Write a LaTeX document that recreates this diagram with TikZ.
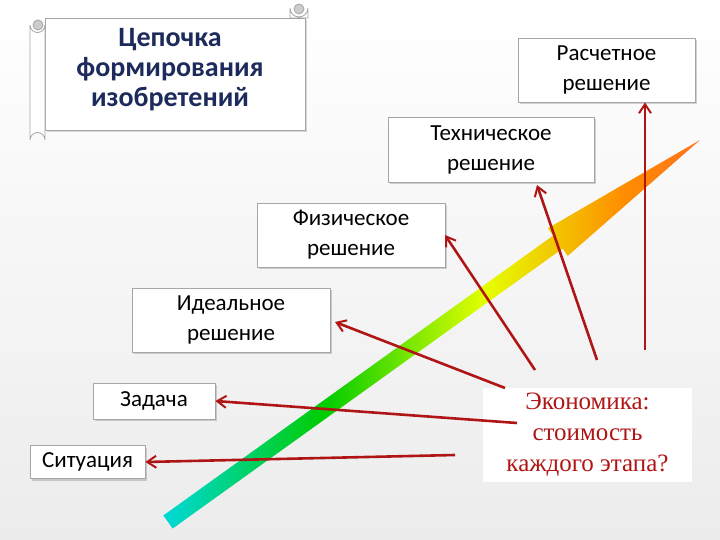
\documentclass[tikz,border=0pt]{standalone}
\usepackage{fontspec}
\setmainfont{Carlito}
\newfontfamily\serifrm{Liberation Serif}
\usetikzlibrary{shadows,arrows.meta}
\pgfdeclarehorizontalshading{rainbowarrow}{100bp}{
 color(0bp)=(teal!80!blue); color(25bp)=(cyan!70!teal); color(40bp)=(green!80!black); color(55bp)=(yellow!90!green); color(68bp)=(orange!90!yellow); color(85bp)=(red!60!pink); color(100bp)=(magenta!70!red)}
\definecolor{lred}{HTML}{B01515}
\definecolor{navy}{HTML}{1C2A5C}
\begin{document}
\begin{tikzpicture}[x=1pt,y=-1pt,
 box/.style={draw=gray!70,fill=white,line width=0.8pt,drop shadow={shadow xshift=2pt,shadow yshift=-2pt,opacity=0.35},
   align=center,font=\fontsize{23}{30}\selectfont,inner sep=0pt},
 link/.style={draw=lred,line width=2.6pt,-{Straight Barb[length=9pt,width=12pt,line width=2pt]}}]
\useasboundingbox (0,0) rectangle (720,540);
\shade[top color=white,bottom color=gray!15] (0,0) rectangle (720,540);
% scroll
\begin{scope}[draw=gray!70,line width=0.8pt]
\filldraw[fill=white,drop shadow={shadow xshift=2pt,shadow yshift=-2pt,opacity=0.3}] (45,18) -- (305,18) -- (305,130) -- (45,130) -- cycle;
\filldraw[fill=white] (30,25) arc(180:0:7.5) -- (45,140) arc(0:-180:7.5) -- cycle;
\filldraw[fill=gray!40] (38,25) circle (5);
\filldraw[fill=white] (290,18) -- (290,8) arc(180:0:9) -- (308,18) -- cycle;
\filldraw[fill=gray!40] (299,9) circle (5);
\end{scope}
\node[font=\bfseries\fontsize{28}{30}\selectfont,text=navy,align=center,inner sep=0pt] (title) at (170,70) {Цепочка\\формирования\\изобретений};
% boxes
\node[box,minimum width=177,minimum height=64] (calc) at (606.5,70) {Расчетное\\решение};
\node[box,minimum width=206,minimum height=65] (tech) at (491,149.5) {Техническое\\решение};
\node[box,minimum width=188,minimum height=64] (phys) at (351,235) {Физическое\\решение};
\node[box,minimum width=198,minimum height=64] (ideal) at (231,320) {Идеальное\\решение};
\node[box,minimum width=122,minimum height=36] (task) at (154,401) {Задача};
\node[box,minimum width=115,minimum height=33] (sit) at (87.5,462) {Ситуация};
\node[fill=white,minimum width=209,minimum height=94,align=center,text=lred,inner sep=0pt,
  font=\serifrm\fontsize{25}{31}\selectfont] (eco) at (587.5,435) {Экономика:\\стоимость\\каждого этапа?};
% big arrow
\begin{scope}[shift={(168,522)},rotate=35.68]
\shade[shading=rainbowarrow] (0,-8) -- (480,-8) -- (480,-17) -- (655,0) -- (480,17) -- (480,8) -- (0,8) -- cycle;
\end{scope}
% connectors
\coordinate (s1) at (455,455);
\coordinate (s2) at (517,423);
\coordinate (s3) at (505,388);
\coordinate (s4) at (535,370);
\coordinate (s5) at (597,360);
\coordinate (s6) at (645,350);
\draw[link] (s1) -- (sit.east |- 0,462);
\draw[link] (s2) -- (task.east);
\draw[link] (s3) -- (335,322);
\draw[link] (s4) -- (445,235);
\draw[link] (s5) -- (537,185);
\draw[link] (s6) -- (calc.south -| s6);
\end{tikzpicture}
\end{document}
